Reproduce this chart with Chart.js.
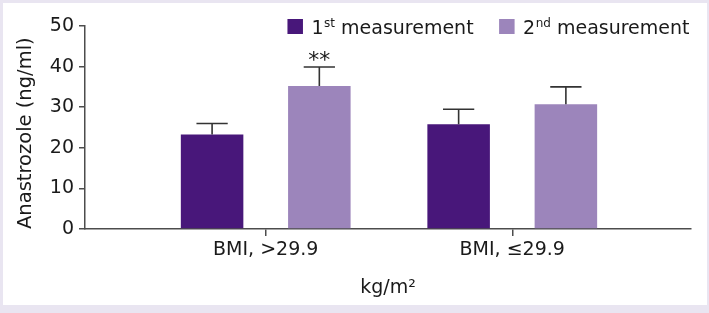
<!DOCTYPE html>
<html><head><meta charset="utf-8">
<script src="https://cdn.jsdelivr.net/npm/chart.js@4/dist/chart.umd.min.js"></script>
<style>
html,body{margin:0;padding:0;background:#e9e5f1;width:709px;height:313px;overflow:hidden}
#frame{position:absolute;left:3px;top:3px;width:704px;height:302px;background:#fff}
canvas{display:block}
</style></head><body>
<div id="frame"><canvas id="c" width="704" height="302"></canvas></div>
<script>
const categories = ['BMI, >29.9', 'BMI, \u226429.9'];
const seriesNames = [['1', 'st', ' measurement'], ['2', 'nd', ' measurement']];
const firstMeasurement = [23.3, 25.8];
const secondMeasurement = [35.2, 30.7];
const firstErrorTop = [26.0, 29.5];
const secondErrorTop = [39.9, 35.0];
const firstSignificance = ['', ''];
const secondSignificance = ['**', ''];
const yTicks = [0, 10, 20, 30, 40, 50];
const yAxisTitle = 'Anastrozole (ng/ml)';
const xAxisTitle = 'kg/m\u00b2';

const FONT = '"DejaVu Sans", Verdana, sans-serif';
Chart.defaults.font.family = FONT;
Chart.defaults.color = '#1a1a1a';
const AXIS = '#4d4d4d';
const COLORS = ['#48177a', '#9c85bb'];

function pts(vals) { return vals.map((v, i) => ({ x: i + 1, y: v })); }

const errorBarPlugin = {
  id: 'errorBars',
  afterDatasetsDraw(chart) {
    const ctx = chart.ctx, ys = chart.scales.y;
    ctx.save();
    chart.data.datasets.forEach((ds, di) => {
      const meta = chart.getDatasetMeta(di);
      meta.data.forEach((bar, i) => {
        const top = ys.getPixelForValue(ds.errorTop[i]);
        const half = bar.width / 4;
        ctx.strokeStyle = '#333';
        ctx.lineWidth = 1.6;
        ctx.beginPath();
        ctx.moveTo(bar.x, bar.y);
        ctx.lineTo(bar.x, top);
        ctx.moveTo(bar.x - half, top);
        ctx.lineTo(bar.x + half, top);
        ctx.stroke();
        const s = ds.significance[i];
        if (s) {
          ctx.fillStyle = '#1a1a1a';
          ctx.font = '22px ' + FONT;
          ctx.textAlign = 'center';
          ctx.textBaseline = 'alphabetic';
          ctx.fillText(s, bar.x, top - 0.5);
        }
      });
    });
    ctx.restore();
  }
};

const legendPlugin = {
  id: 'supLegend',
  afterDraw(chart) {
    const ctx = chart.ctx, area = chart.chartArea;
    const mainF = '19px ' + FONT, supF = '12px ' + FONT;
    const base = area.top + 8;
    ctx.save();
    ctx.textBaseline = 'alphabetic';
    ctx.textAlign = 'left';
    let x = area.right - 2;
    for (let d = chart.data.datasets.length - 1; d >= 0; d--) {
      const p = seriesNames[d];
      ctx.font = mainF; const w0 = ctx.measureText(p[0]).width; const w2 = ctx.measureText(p[2]).width;
      ctx.font = supF; const w1 = ctx.measureText(p[1]).width;
      x -= (w0 + w1 + w2);
      const tx = x;
      ctx.fillStyle = '#1a1a1a';
      ctx.font = mainF; ctx.fillText(p[0], tx, base);
      ctx.font = supF; ctx.fillText(p[1], tx + w0 + 0.5, base - 7);
      ctx.font = mainF; ctx.fillText(p[2], tx + w0 + w1 + 0.5, base);
      x -= 8.5;
      x -= 15.5;
      ctx.fillStyle = chart.data.datasets[d].backgroundColor;
      ctx.fillRect(x, base - 15, 15.5, 15);
      x -= 26;
    }
    ctx.restore();
  }
};

new Chart(document.getElementById('c'), {
  type: 'bar',
  data: {
    datasets: [
      { label: '1st measurement', data: pts(firstMeasurement), errorTop: firstErrorTop, significance: firstSignificance,
        backgroundColor: COLORS[0], borderWidth: 0, categoryPercentage: 0.87, barPercentage: 0.583 },
      { label: '2nd measurement', data: pts(secondMeasurement), errorTop: secondErrorTop, significance: secondSignificance,
        backgroundColor: COLORS[1], borderWidth: 0, categoryPercentage: 0.87, barPercentage: 0.583 }
    ]
  },
  options: {
    responsive: false,
    animation: false,
    layout: { padding: { left: 0, right: 16, top: 23, bottom: 0 } },
    plugins: { legend: { display: false }, tooltip: { enabled: false } },
    scales: {
      x: {
        type: 'linear', min: 0.267, max: 2.725, offset: false, bounds: 'data',
        afterBuildTicks: s => { s.ticks = categories.map((c, i) => ({ value: i + 1 })); },
        afterFit: s => { s.height = 76; },
        ticks: { callback: v => categories[v - 1], font: { size: 19 }, color: '#1a1a1a', padding: 3, maxRotation: 0, autoSkip: false },
        grid: { offset: false, drawOnChartArea: false, drawTicks: true, tickLength: 7, color: AXIS, lineWidth: 1.5 },
        border: { display: true, color: AXIS, width: 1.5 },
        title: { display: true, text: xAxisTitle, font: { size: 19 }, color: '#1a1a1a', padding: { top: 4, bottom: 6 } }
      },
      y: {
        min: 0, max: 50,
        afterBuildTicks: s => { s.ticks = yTicks.map(v => ({ value: v })); },
        afterFit: s => { s.width = 82; },
        ticks: { font: { size: 19 }, color: '#1a1a1a', padding: 5 },
        grid: { drawOnChartArea: false, drawTicks: true, tickLength: 6, color: AXIS, lineWidth: 1.5 },
        border: { display: true, color: AXIS, width: 1.5 },
        title: { display: true, text: yAxisTitle, align: 'start', font: { size: 19.5 }, color: '#1a1a1a', padding: { top: 11, bottom: 0 } }
      }
    }
  },
  plugins: [errorBarPlugin, legendPlugin]
});
</script>
</body></html>
